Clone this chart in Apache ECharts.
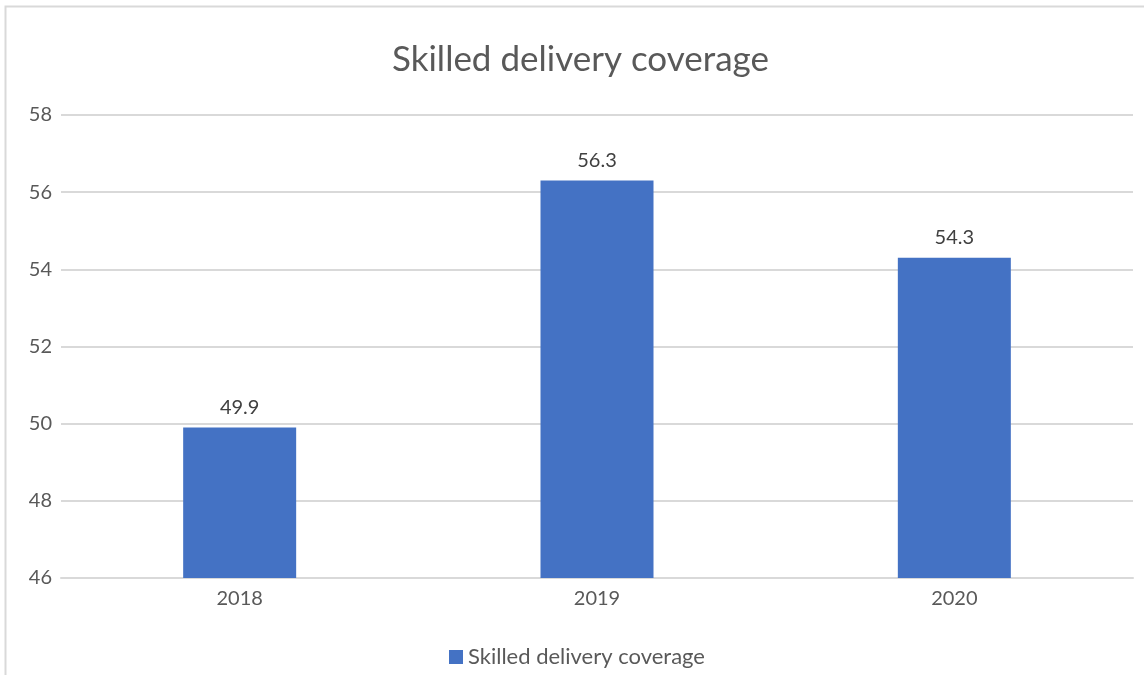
<!DOCTYPE html>
<html>
<head>
<meta charset="utf-8">
<script src="https://cdn.jsdelivr.net/npm/echarts@6/dist/echarts.min.js"></script>
<style>
  html, body { margin: 0; padding: 0; background: #fff; }
  #chart { width: 1144px; height: 675px; }
</style>
</head>
<body>
<div id="chart"></div>
<script>
const years = ['2018', '2019', '2020']
const coverage = [49.9, 56.3, 54.3]
const seriesName = 'Skilled delivery coverage'

const chart = echarts.init(document.getElementById('chart'))
chart.setOption({
  backgroundColor: '#fff',
  textStyle: { fontFamily: 'Lato' },
  graphic: [{
    type: 'rect',
    shape: { x: 5.5, y: 6.5, width: 1200, height: 700 },
    style: { fill: 'none', stroke: '#d9d9d9', lineWidth: 2 },
    silent: true
  }],
  title: {
    text: 'Skilled delivery coverage',
    left: 387,
    top: 37,
    textStyle: { fontFamily: 'Lato', fontSize: 35, fontWeight: 'normal', color: '#595959' }
  },
  legend: {
    top: 641,
    left: 444,
    itemWidth: 14,
    itemHeight: 14,
    itemGap: 8,
    icon: 'rect',
    textStyle: { fontFamily: 'Lato', fontSize: 22, color: '#595959' },
    data: [seriesName]
  },
  grid: {
    left: 61,
    right: 11,
    top: 115,
    bottom: 97
  },
  xAxis: {
    type: 'category',
    data: years,
    axisTick: { show: false },
    axisLine: { lineStyle: { color: '#d9d9d9', width: 2 } },
    axisLabel: { fontFamily: 'Lato', fontSize: 20, color: '#595959', margin: 11 }
  },
  yAxis: {
    type: 'value',
    min: 46,
    max: 58,
    interval: 2,
    axisLine: { show: false },
    axisTick: { show: false },
    splitLine: { lineStyle: { color: '#d9d9d9', width: 2 } },
    axisLabel: { fontFamily: 'Lato', fontSize: 20, color: '#595959', margin: 9 }
  },
  series: [{
    name: seriesName,
    type: 'bar',
    data: coverage,
    barWidth: 113,
    itemStyle: { color: '#4472C4' },
    label: {
      show: true,
      position: 'top',
      distance: 10,
      fontFamily: 'Lato',
      fontSize: 20,
      color: '#404040'
    }
  }]
})
</script>
</body>
</html>
